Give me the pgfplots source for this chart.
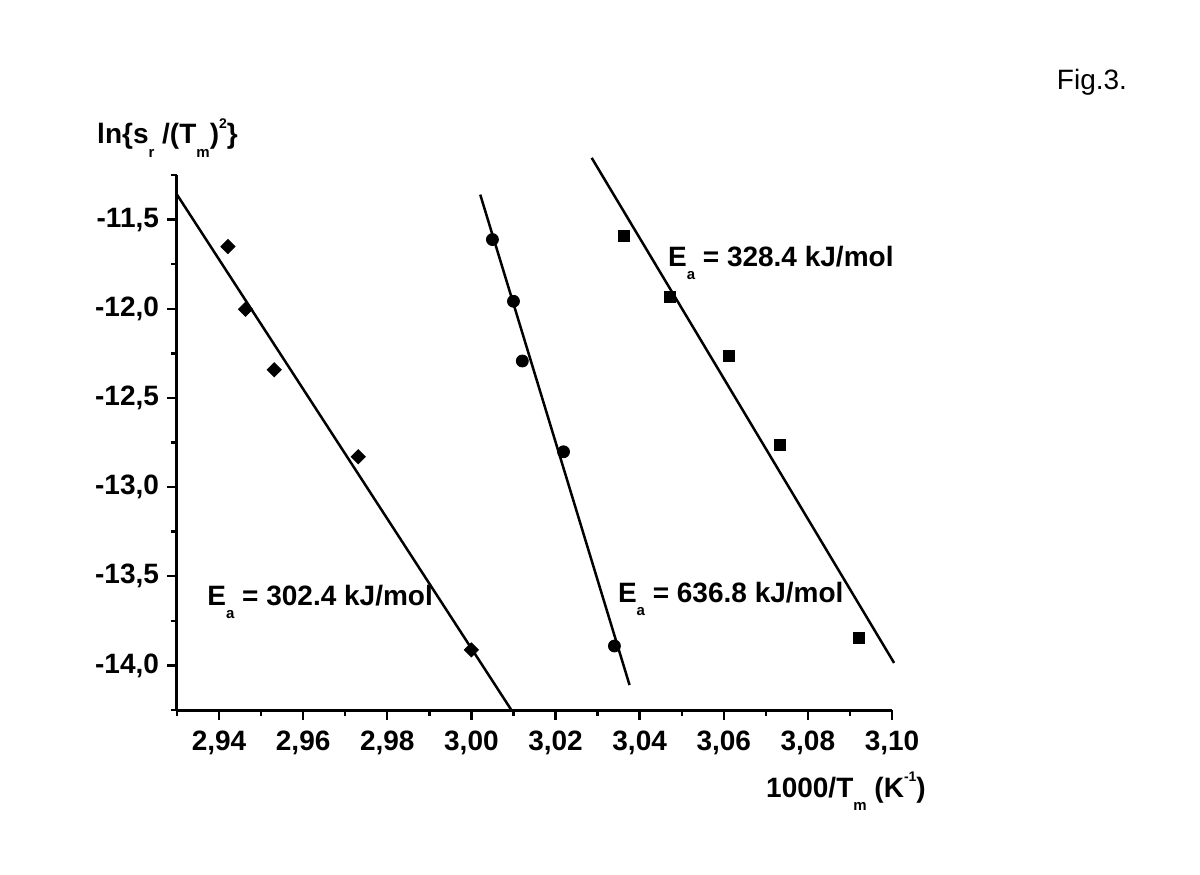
\documentclass[border=0pt]{standalone}
\usepackage{pgfplots}
\pgfplotsset{compat=1.18}
\usepackage{fontspec}
\setmainfont{Liberation Sans}
\newcommand\lsub[1]{\raisebox{-0.48em}{\fontsize{7.5}{8}\selectfont #1}}
\newcommand\lsup[1]{\raisebox{0.55em}{\fontsize{7}{8}\selectfont #1}}
\begin{document}
\begin{tikzpicture}
\useasboundingbox (0,0) rectangle (600pt,437pt);
\begin{axis}[
  at={(88.5pt,82pt)}, anchor=south west,
  scale only axis, width=357.5pt, height=267.5pt,
  xmin=2.93, xmax=3.10, ymin=-14.25, ymax=-11.25,
  axis x line*=bottom, axis y line*=left,
  axis line style={-, line width=1.5pt},
  xtick={2.94,2.96,2.98,3.00,3.02,3.04,3.06,3.08,3.10},
  minor xtick={2.93,2.95,2.97,2.99,3.01,3.03,3.05,3.07,3.09},
  ytick={-14,-13.5,-13,-12.5,-12,-11.5},
  minor ytick={-14.25,-13.75,-13.25,-12.75,-12.25,-11.75,-11.25},
  tick align=outside,
  major tick length=5pt, minor tick length=3pt,
  every tick/.style={black, line width=1.2pt},
  xticklabel style={/pgf/number format/fixed, /pgf/number format/fixed zerofill, /pgf/number format/precision=2, /pgf/number format/use comma, /pgf/number format/assume math mode=true, yshift=-2pt},
  yticklabel style={/pgf/number format/fixed, /pgf/number format/fixed zerofill, /pgf/number format/precision=1, /pgf/number format/use comma, /pgf/number format/assume math mode=true, xshift=-0.5pt},
  ticklabel style={font=\bfseries\fontsize{14}{16}\selectfont},
  clip=false,
]
% diamonds
\addplot[only marks, mark=square*, mark size=2.5pt, mark options={rotate=45, fill=black}] coordinates {
  (2.9421,-11.651) (2.9463,-12.003) (2.9531,-12.342) (2.9731,-12.830) (3.0000,-13.913)};
\addplot[black, line width=1.25pt] coordinates {(2.93,-11.36) (3.0095,-14.25)};
% circles
\addplot[only marks, mark=*, mark size=3pt, mark options={fill=black}] coordinates {
  (3.0050,-11.612) (3.0100,-11.958) (3.0121,-12.293) (3.0219,-12.802) (3.0340,-13.891)};
\addplot[black, line width=1.25pt] coordinates {(3.0021,-11.36) (3.0376,-14.11)};
% squares
\addplot[only marks, mark=square*, mark size=2.75pt, mark options={fill=black}] coordinates {
  (3.0362,-11.589) (3.0471,-11.936) (3.0612,-12.265) (3.0733,-12.763) (3.0921,-13.846)};
\addplot[black, line width=1.25pt] coordinates {(3.0286,-11.154) (3.1005,-13.986)};
\node[anchor=base west, font=\bfseries\fontsize{14}{16}\selectfont, inner sep=0pt] at (axis cs:3.04667,-11.7626) {E\lsub{a} = 328.4 kJ/mol};
\node[anchor=base west, font=\bfseries\fontsize{14}{16}\selectfont, inner sep=0pt] at (axis cs:3.03476,-13.645) {E\lsub{a} = 636.8 kJ/mol};
\node[anchor=base west, font=\bfseries\fontsize{14}{16}\selectfont, inner sep=0pt] at (axis cs:2.93714,-13.662) {E\lsub{a} = 302.4 kJ/mol};
\node[anchor=base, font=\bfseries\fontsize{14}{16}\selectfont, inner sep=0pt] at ([xshift=-4.75pt, yshift=15.5pt]rel axis cs:0,1) {ln\{s\lsub{r} /(T\lsub{m})\lsup{2}\}};
\node[anchor=base, font=\bfseries\fontsize{14}{16}\selectfont, inner sep=0pt] at ([xshift=-23pt, yshift=-43.5pt]rel axis cs:1,0) {1000/T\lsub{m} (K\lsup{-1})};
\end{axis}
\node[anchor=base, font=\fontsize{14}{16}\selectfont, inner sep=0pt] at (546pt,392pt) {Fig.3.};
\end{tikzpicture}
\end{document}
